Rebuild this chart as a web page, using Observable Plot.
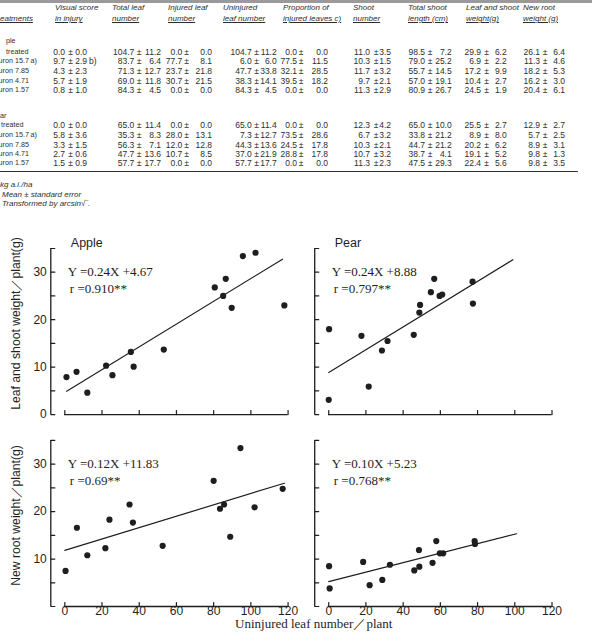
<!DOCTYPE html>
<html><head><meta charset="utf-8">
<script src="https://cdn.jsdelivr.net/npm/d3@7"></script>
<script src="https://cdn.jsdelivr.net/npm/@observablehq/plot@0.6"></script>
<style>
body{margin:0;background:#fff;}
#wrap{width:603px;height:644px;position:relative;overflow:hidden;background:#fff;}
#table{position:absolute;left:0;top:0;width:603px;height:230px;font-family:"Liberation Sans",Arial,sans-serif;font-size:8.5px;color:#2e2e2e;}
#table span{position:absolute;white-space:pre;line-height:10px;}
#table .hd{font-style:italic;font-size:8px;}
#table .ul{text-decoration:underline;}
#table .fn{font-style:italic;font-size:8px;}
#table .lb{font-size:7.2px;}
#chart{position:absolute;left:0;top:230px;}
g[aria-label="equation"] text{letter-spacing:1px;}
g[aria-label="y-title"] text{word-spacing:1.5px;}
</style></head>
<body><div id="wrap"><div id="table"></div><div id="chart"></div></div>
<script>
// ---------------- table data ----------------
const headerTop = ["", "Visual score", "Total leaf", "Injured leaf", "Uninjured", "Proportion of", "Shoot", "Total shoot", "Leaf and shoot", "New root"];
const headerBottom = ["eatments", "in injury", "number", "number", "leaf number", "injured leaves c)", "number", "length (cm)", "weight(g)", "weight (g)"];
const groupLabels = ["ple", "ar"];
const treatments = ["treated", "uron", "uron", "uron", "uron"];
const doses = ["", "15.7", "7.85", "4.71", "1.57"];
const doseNotes = ["", "a)", "", "", ""];
const appleValues = [
  ["0.0±0.0", "104.7±11.2", "0.0±0.0", "104.7±11.2", "0.0±0.0", "11.0±3.5", "98.5±7.2", "29.9±6.2", "26.1±6.4"],
  ["9.7±2.9", "83.7±6.4", "77.7±8.1", "6.0±6.0", "77.5±11.5", "10.3±1.5", "79.0±25.2", "6.9±2.2", "11.3±4.6"],
  ["4.3±2.3", "71.3±12.7", "23.7±21.8", "47.7±33.8", "32.1±28.5", "11.7±3.2", "55.7±14.5", "17.2±9.9", "18.2±5.3"],
  ["5.7±1.9", "69.0±11.8", "30.7±21.5", "38.3±14.1", "39.5±18.2", "9.7±2.1", "57.0±19.1", "10.4±2.7", "16.2±3.0"],
  ["0.8±1.0", "84.3±4.5", "0.0±0.0", "84.3±4.5", "0.0±0.0", "11.3±2.9", "80.9±26.7", "24.5±1.9", "20.4±6.1"]
];
const appleVisualNotes = ["", "b)", "", "", ""];
const pearValues = [
  ["0.0±0.0", "65.0±11.4", "0.0±0.0", "65.0±11.4", "0.0±0.0", "12.3±4.2", "65.0±10.0", "25.5±2.7", "12.9±2.7"],
  ["5.8±3.6", "35.3±8.3", "28.0±13.1", "7.3±12.7", "73.5±28.6", "6.7±3.2", "33.8±21.2", "8.9±8.0", "5.7±2.5"],
  ["3.3±1.5", "56.3±7.1", "12.0±12.8", "44.3±13.6", "24.5±17.8", "10.3±2.1", "44.7±21.2", "20.2±6.2", "8.9±3.1"],
  ["2.7±0.6", "47.7±13.6", "10.7±8.5", "37.0±21.9", "28.8±17.8", "10.7±3.2", "38.7±4.1", "19.1±5.2", "9.8±1.3"],
  ["1.5±0.9", "57.7±17.7", "0.0±0.0", "57.7±17.7", "0.0±0.0", "11.3±2.3", "47.5±29.3", "22.4±5.6", "9.8±3.5"]
];
const footnotes = ["kg a.i./ha", "Mean ± standard error", "Transformed by arcsin√‾."];

// ---------------- chart data ----------------
const species = ["Apple", "Pear"];
const measures = ["Leaf and shoot", "New root"];
const yTitles = ["Leaf and shoot weight／plant(g)", "New root weight／plant(g)"];
const xTitle = "Uninjured leaf number／plant";

const appleShootX = [0.9, 6.3, 12.1, 22.2, 25.6, 35.5, 37.0, 53.2, 80.6, 85.1, 86.5, 89.7, 95.7, 102.5, 118.0];
const appleShootY = [7.9, 9.0, 4.6, 10.3, 8.3, 13.2, 10.1, 13.7, 26.8, 25.0, 28.6, 22.5, 33.4, 34.1, 23.0];
const appleRootX  = [0.4, 6.5, 12.1, 21.8, 24.0, 34.8, 36.6, 52.6, 80.0, 83.4, 85.6, 88.9, 94.4, 102.0, 117.1];
const appleRootY  = [7.5, 16.6, 10.8, 12.3, 18.3, 21.5, 17.7, 12.8, 26.5, 20.6, 21.5, 14.7, 33.4, 20.9, 24.8];
const pearShootX  = [0.2, 0.0, 17.6, 21.5, 28.6, 31.6, 45.7, 48.7, 49.1, 54.9, 56.7, 59.6, 61.0, 77.3, 77.5];
const pearShootY  = [18.0, 3.1, 16.6, 5.9, 13.5, 15.5, 16.8, 21.5, 23.1, 25.8, 28.6, 25.0, 25.3, 28.0, 23.4];
const pearRootX   = [0.2, 0.5, 18.5, 22.0, 28.8, 32.9, 46.0, 48.5, 48.7, 55.8, 57.8, 59.7, 61.5, 78.4, 78.6];
const pearRootY   = [8.5, 3.8, 9.4, 4.5, 5.6, 8.8, 7.6, 11.9, 8.4, 9.2, 13.8, 11.2, 11.2, 13.8, 13.2];

// panel order: Apple/shoot, Apple/root, Pear/shoot, Pear/root
const slopes = [0.24, 0.12, 0.24, 0.10];
const intercepts = [4.67, 11.83, 8.88, 5.23];
const lineXStart = [1, 0, 0, 0];
const lineXEnd = [117, 118, 99, 101];
const eqTexts = ["Y =0.24X +4.67", "Y =0.12X +11.83", "Y =0.24X +8.88", "Y =0.10X +5.23"];
const rTexts = ["r =0.910**", "r =0.69**", "r =0.797**", "r =0.768**"];

const xTicks = [0, 20, 40, 60, 80, 100, 120];
const yTicks = [0, 5, 10, 15, 20, 25, 30, 35];
const yLabelsTop = [0, 10, 20, 30];
const yLabelsBottom = [10, 20, 30];

// ---------------- build table ----------------
const tbl = document.getElementById("table");
function addSpan(text, cls, opts) {
  const s = document.createElement("span");
  s.textContent = text;
  if (cls) s.className = cls;
  Object.assign(s.style, opts);
  tbl.appendChild(s);
  return s;
}
function line(x1, x2, y, h, color) {
  const d = document.createElement("div");
  Object.assign(d.style, {position: "absolute", left: x1 + "px", width: (x2 - x1) + "px", top: y + "px", height: h + "px", background: color});
  tbl.appendChild(d);
}
line(0, 592, 0, 2.5, "#9a9a9a");
const hdrX = [0, 55, 112, 168, 223, 283, 353, 408, 466, 523];
headerTop.forEach((t, i) => addSpan(t, "hd", {left: hdrX[i] + "px", top: "3px"}));
headerBottom.forEach((t, i) => addSpan(t, "hd ul", {left: hdrX[i] + "px", top: "14px"}));

const meanRight = [65, 134.3, 182.3, 251.7, 297, 370, 425, 481, 540];
const pmCenter = [70.5, 139, 186.5, 256.5, 301, 376, 430, 486.5, 545];
const seRight = [87, 161, 212, 276.7, 328, 391, 451.7, 506.7, 565];
function addRows(values, labelY, rowYs, groupLabel, groupX, firstX, notes) {
  addSpan(groupLabel, "lb", {left: groupX + "px", top: (labelY - 5) + "px"});
  values.forEach((row, r) => {
    const top = (rowYs[r] - 5) + "px";
    addSpan(treatments[r], "lb", {left: (r === 0 ? firstX : -1.5) + "px", top});
    if (doses[r]) addSpan(doses[r], "lb", {right: (603 - 29) + "px", top});
    if (doseNotes[r]) addSpan(doseNotes[r], "lb", {left: "30.5px", top});
    row.forEach((cell, c) => {
      const [m, se] = cell.split("±");
      addSpan(m, "", {right: (603 - meanRight[c]) + "px", top});
      addSpan("±", "", {left: (pmCenter[c] - 3) + "px", width: "6px", textAlign: "center", top});
      addSpan(se, "", {right: (603 - seRight[c]) + "px", top});
    });
    if (notes && notes[r]) addSpan(notes[r], "", {left: "89px", top});
  });
}
addRows(appleValues, 40.7, [51.7, 61.3, 71, 80.5, 90], groupLabels[0], 6, 6, appleVisualNotes);
addRows(pearValues, 116, [125.3, 135, 144.7, 154, 163.3], groupLabels[1], 0, 1, null);
line(0, 578, 170.5, 1.4, "#333");
footnotes.forEach((t, i) => addSpan(t, "fn", {left: (i === 0 ? 0 : 2) + "px", top: ([185, 195, 204][i] - 5) + "px"}));

// ---------------- build chart ----------------
const panelDefs = [
  {species: "Apple", measure: "Leaf and shoot", xs: appleShootX, ys: appleShootY},
  {species: "Apple", measure: "New root", xs: appleRootX, ys: appleRootY},
  {species: "Pear", measure: "Leaf and shoot", xs: pearShootX, ys: pearShootY},
  {species: "Pear", measure: "New root", xs: pearRootX, ys: pearRootY}
];
const points = panelDefs.flatMap(p => p.xs.map((x, i) => ({species: p.species, measure: p.measure, x, y: p.ys[i]})));
const fitLines = panelDefs.flatMap((p, k) => [lineXStart[k], lineXEnd[k]].map(x => ({
  species: p.species, measure: p.measure, key: k, x, y: intercepts[k] + slopes[k] * x
})));
const eqRows = panelDefs.map((p, k) => ({species: p.species, measure: p.measure, eq: eqTexts[k], r: rTexts[k]}));
const yLabelRows = [
  ...yLabelsTop.map(v => ({species: "Apple", measure: measures[0], v})),
  ...yLabelsBottom.map(v => ({species: "Apple", measure: measures[1], v}))
];
const xLabelRows = species.flatMap(s => xTicks.map(v => ({species: s, measure: measures[1], v})));
const titleRows = species.map(s => ({species: s, measure: measures[0], t: s}));
const yTitleRows = measures.map((m, i) => ({species: "Apple", measure: m, t: yTitles[i]}));
const xTitleRows = [{species: "Pear", measure: measures[1], t: xTitle}];

const ink = "#1e1e1e";
const tickShape = {draw(context, l) { context.moveTo(0, 0); context.lineTo(0, -l); }};
const serif = "Liberation Serif, DejaVu Serif, serif";
const sans = "Liberation Sans, Arial, sans-serif";

const chart = Plot.plot({
  width: 603, height: 414,
  marginLeft: 64.3, marginRight: 51.5, marginTop: 18, marginBottom: 38,
  style: {fontFamily: sans, fontSize: "12px", color: ink, background: "white", overflow: "visible"},
  fx: {domain: species, paddingInner: 0.154, paddingOuter: 0, round: false, axis: null},
  fy: {domain: measures, paddingInner: 0.135, paddingOuter: 0, round: false, axis: null},
  x: {domain: [0, 120], axis: null},
  y: {domain: [0, 35], axis: null},
  marks: [
    Plot.ruleX([xTicks[0]], {dx: -14, stroke: ink, strokeWidth: 1.3}),
    Plot.vector(yTicks, {y: d => d, frameAnchor: "left", dx: -14, length: 4, rotate: 90, anchor: "start", shape: tickShape, stroke: ink, strokeWidth: 1.2}),
    Plot.ruleY([yTicks[0]], {stroke: ink, strokeWidth: 1.3}),
    Plot.vector(xTicks, {x: d => d, frameAnchor: "bottom", length: 4, rotate: 0, anchor: "start", shape: tickShape, stroke: ink, strokeWidth: 1.2}),
    Plot.text(yLabelRows, {fx: "species", fy: "measure", y: "v", text: d => String(d.v), frameAnchor: "left", dx: -18, textAnchor: "end", fontFamily: sans, fontSize: 12}),
    Plot.text(xLabelRows, {fx: "species", fy: "measure", x: "v", text: d => String(d.v), frameAnchor: "bottom", dy: 8, textAnchor: "middle", fontFamily: sans, fontSize: 12}),
    Plot.line(fitLines, {fx: "species", fy: "measure", x: "x", y: "y", z: "key", stroke: ink, strokeWidth: 1.2}),
    Plot.dot(points, {fx: "species", fy: "measure", x: "x", y: "y", r: 3.1, fill: ink, stroke: "none"}),
    Plot.text(eqRows, {fx: "species", fy: "measure", text: "eq", frameAnchor: "top-left", dx: 3, dy: 18, textAnchor: "start", fontFamily: serif, fontSize: 13, ariaLabel: "equation"}),
    Plot.text(eqRows, {fx: "species", fy: "measure", text: "r", frameAnchor: "top-left", dx: 5, dy: 35, textAnchor: "start", fontFamily: serif, fontSize: 13, ariaLabel: "equation"}),
    Plot.text(titleRows, {fx: "species", fy: "measure", text: "t", frameAnchor: "top-left", dx: 6, dy: -10, textAnchor: "start", fontFamily: d => d.t === "Apple" ? sans : serif, fontSize: 12.5}),
    Plot.text(yTitleRows, {fx: "species", fy: "measure", text: "t", frameAnchor: "left", rotate: -90, dx: -49, dy: -8, textAnchor: "middle", fontFamily: sans, fontSize: 12.2, ariaLabel: "y-title"}),
    Plot.text(xTitleRows, {fx: "species", fy: "measure", text: "t", frameAnchor: "bottom-left", dx: -15, dy: 21.5, textAnchor: "middle", fontFamily: serif, fontSize: 13})
  ]
});
document.getElementById("chart").appendChild(chart);
</script>
</body></html>
